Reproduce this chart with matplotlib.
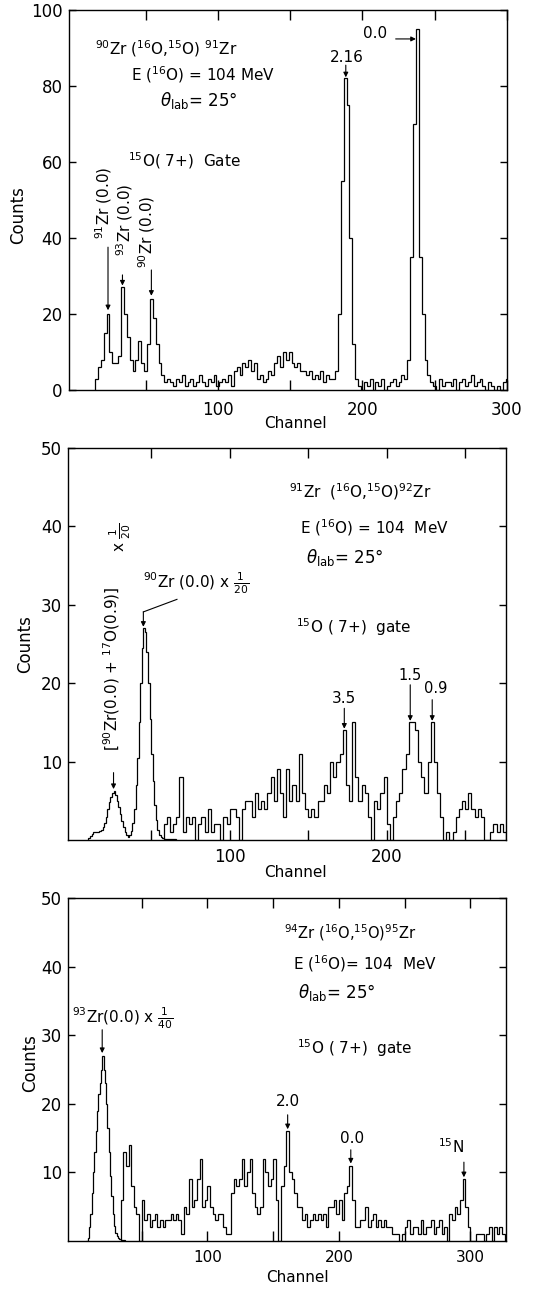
import numpy as np
import matplotlib
matplotlib.use("Agg")
import matplotlib.pyplot as plt

plt.rcParams['font.family'] = 'DejaVu Sans'
plt.rcParams['mathtext.fontset'] = 'dejavusans'

# top panel: 90Zr(16O,15O)91Zr, 2-channel bins starting at channel 15
p1_start = 15
p1_counts = [3, 6, 8, 15, 20, 10, 7, 7, 9, 27, 20, 14, 8, 5, 8, 13, 7, 5, 12, 24, 19, 12, 7, 4, 2,
             3, 2, 1, 3, 2, 4, 1, 2, 3, 1, 2, 4, 2, 1, 3, 2, 4, 1, 2, 3, 2, 4, 1,
             5, 6, 4, 7, 6, 8, 5, 7,
             3, 4, 2, 3, 5, 4,
             7, 9, 6, 10, 8, 10, 7,
             6, 7, 5, 5, 4, 5, 3, 4, 3, 5, 2, 4, 3, 3,
             5, 20, 55, 82, 75, 40, 12, 3, 1, 0,
             2, 1, 3, 0, 2, 1, 3, 0, 1, 2, 3, 1, 2, 4,
             3, 8, 35, 70, 95, 35, 20, 8, 4, 2, 1,
             0, 3, 1, 2, 2, 1, 3, 0, 2, 3, 1, 2, 4, 1, 2, 3, 1, 0, 2, 1, 0, 1, 0, 2, 3]

# middle panel: 91Zr(16O,15O)92Zr
p2_scaled_start = 10      # x 1/20 part, 1-channel bins
p2_scaled = [0.2, 0.5, 0.8, 1, 1, 1, 1, 1.1, 1.3, 1.6, 2.2, 3, 4, 4.8, 5.5, 6, 6.2, 5.8, 5, 4.2,
             3.3, 2.4, 1.6, 1, 0.6, 0.4, 0.6, 1.2, 2.2, 4, 7, 10.5, 15, 20, 24.5, 27, 26.5, 24, 20,
             15.5, 11, 7.5, 4.5, 2.5, 1.3, 0.7, 0.4, 0.2, 0.1, 0.1, 0.1, 0.1, 0.1, 0.1, 0.1, 0.1]
p2_start = 58             # 2-channel bins
p2_counts = [2, 3, 1, 2, 3, 8, 1, 3, 2, 3, 0, 2, 3, 1, 4, 1, 2, 2, 0, 3, 2, 4, 4, 3, 0, 4, 5, 5,
             3, 6, 4, 5, 4, 6, 8, 5, 9, 6,
             3, 9, 5, 7, 5, 11, 6, 4, 3, 4, 3, 5, 5, 7, 6, 10, 8, 10, 11, 14,
             7, 5, 15, 8, 5, 7, 6, 3, 0, 5, 4, 6, 8, 2, 0, 3, 5, 6, 9, 11,
             15, 15, 14, 10, 8, 6, 10, 15, 10, 6, 3, 0, 1, 0, 1, 3, 4, 5, 4, 6,
             4, 3, 4, 3, 0, 0, 1, 2, 1, 2, 1]

# bottom panel: 94Zr(16O,15O)95Zr
p3_scaled_start = 8       # x 1/40 part, 1-channel bins
p3_scaled = [0, 0.5, 2, 4, 7, 10, 13, 16, 19, 21.5, 23, 25, 27, 25, 23, 20, 16.5, 13, 9.5, 6.5,
             4, 2.2, 1.2, 0.8, 0.5, 0.3, 0.2, 0.1, 0.1]
p3_start = 34             # 2-channel bins
p3_counts = [6, 13, 11, 14, 8, 5, 4, 0, 6, 3, 4, 2, 3, 4, 2, 3, 2, 3, 3, 4, 3, 4, 3, 1, 5, 4, 9, 5,
             6, 9, 12, 5, 6, 8, 5, 4, 3, 4, 4, 2, 1, 1, 7, 9, 8, 9, 12, 8, 10, 12, 7, 5, 4, 5,
             12, 10, 8, 9,
             12, 6, 0, 8, 11, 16, 10, 9, 7, 5, 5, 3, 4, 2, 3, 4, 3, 4, 3, 4,
             2, 5, 5, 6, 4, 6, 3, 7, 8, 11, 6, 2, 2, 3, 3, 5, 2, 3, 4, 2,
             3, 2, 3, 2, 2, 1, 1, 1, 0, 1, 2, 3, 1, 2, 2, 1, 3, 1, 2, 2,
             3, 1, 2, 3, 1, 2, 0, 4, 3, 5, 4, 6, 9, 5, 2, 0, 0, 1, 1, 1,
             0, 1, 2, 0, 2, 1, 2, 1]

theta = r'$\theta_{\mathrm{lab}}$= 25°'


def hist(ax, start, counts, width):
    edges = start + width * np.arange(len(counts) + 1)
    ax.stairs(counts, edges, color='black', lw=0.9)


def arrow(ax, x, y0, y1, x0=None):
    if x0 is None:
        x0 = x
    ax.annotate('', xy=(x, y1), xytext=(x0, y0),
                arrowprops=dict(arrowstyle='-|>', color='black', lw=0.8,
                                mutation_scale=7, shrinkA=0, shrinkB=0))


def frame(ax, xlim, ylim, yticks, xmax_tick, xpad, xsize):
    ax.set_xlim(xlim)
    ax.set_ylim(ylim)
    xt = np.arange(50, xmax_tick + 1, 50)
    ax.set_xticks(xt)
    ax.set_xticklabels([str(v) if v % 100 == 0 else '' for v in xt])
    ax.set_yticks(yticks)
    ax.tick_params(axis='x', direction='in', top=True, length=7, width=1,
                   pad=xpad, labelsize=xsize)
    ax.tick_params(axis='y', direction='in', right=True, length=5, width=1,
                   pad=4.5, labelsize=12)
    for s in ax.spines.values():
        s.set_linewidth(1.0)


fig = plt.figure(figsize=(5.41, 12.89), dpi=100)

# ---------- panel 1
ax1 = fig.add_axes([0.1275, 0.6974, 0.8096, 0.2948])
hist(ax1, p1_start, p1_counts, 2)
frame(ax1, (-3, 300), (0, 100), [0, 20, 40, 60, 80, 100], 300, 8, 12)
ax1.set_xlabel('Channel', fontsize=11)
ax1.xaxis.set_label_coords(0.516, -0.087)
ax1.xaxis.label.set_va('center')
ax1.set_ylabel('Counts', fontsize=12)
ax1.yaxis.set_label_coords(-0.116, 0.46)
ax1.yaxis.label.set_va('center')

ax1.text(64.4, 89.9, r'$^{90}$Zr ($^{16}$O,$^{15}$O) $^{91}$Zr', ha='center', va='center', fontsize=11)
ax1.text(89.4, 82.9, r'E ($^{16}$O) = 104 MeV', ha='center', va='center', fontsize=11)
ax1.text(60, 76.3, theta, ha='left', va='center', fontsize=12)
ax1.text(37.8, 60.5, r'$^{15}$O( 7+)  Gate', ha='left', va='center', fontsize=11)

ax1.text(21, 49.3, r'$^{91}$Zr (0.0)', rotation=90, ha='center', va='center', fontsize=11)
ax1.text(35.7, 44.7, r'$^{93}$Zr (0.0)', rotation=90, ha='center', va='center', fontsize=11)
ax1.text(51, 41.6, r'$^{90}$Zr (0.0)', rotation=90, ha='center', va='center', fontsize=11)
arrow(ax1, 24, 37.6, 21)
arrow(ax1, 34, 30.3, 27.5)
arrow(ax1, 54, 31.6, 24.8)

ax1.text(189, 87.6, '2.16', ha='center', va='center', fontsize=11)
arrow(ax1, 188.5, 85.5, 82.3)
ax1.text(209, 93.8, '0.0', ha='center', va='center', fontsize=11)
ax1.annotate('', xy=(237, 92.4), xytext=(223, 92.4),
             arrowprops=dict(arrowstyle='-|>', color='black', lw=0.8,
                             mutation_scale=7, shrinkA=0, shrinkB=0))

# ---------- panel 2
ax2 = fig.add_axes([0.1257, 0.3483, 0.8096, 0.3041])
hist(ax2, p2_scaled_start, p2_scaled, 1)
hist(ax2, p2_start, p2_counts, 2)
frame(ax2, (-3, 276), (0, 50), [10, 20, 30, 40, 50], 250, 6, 12)
ax2.set_xlabel('Channel', fontsize=11)
ax2.xaxis.set_label_coords(0.52, -0.084)
ax2.xaxis.label.set_va('center')
ax2.set_ylabel('Counts', fontsize=12)
ax2.yaxis.set_label_coords(-0.098, 0.50)
ax2.yaxis.label.set_va('center')

ax2.text(183.3, 44.4, r'$^{91}$Zr  ($^{16}$O,$^{15}$O)$^{92}$Zr', ha='center', va='center', fontsize=11)
ax2.text(191.9, 39.9, r'E ($^{16}$O) = 104  MeV', ha='center', va='center', fontsize=11)
ax2.text(148.6, 36.1, theta, ha='left', va='center', fontsize=12)
ax2.text(142.2, 27.2, r'$^{15}$O ( 7+)  gate', ha='left', va='center', fontsize=11)

ax2.text(24.5, 21.9, r'[$^{90}$Zr(0.0) + $^{17}$O(0.9)]', rotation=90, ha='center', va='center', fontsize=11)
ax2.text(30, 38.6, r'x $\frac{1}{20}$', rotation=90, ha='center', va='center', fontsize=11)
arrow(ax2, 26, 8.6, 6.5)
ax2.text(78.8, 32.8, r'$^{90}$Zr (0.0) x $\frac{1}{20}$', ha='center', va='center', fontsize=11)
ax2.plot([66.4, 45], [30.7, 29.1], color='black', lw=0.8)
arrow(ax2, 45, 29.1, 27.2)

ax2.text(172.8, 18.1, '3.5', ha='center', va='center', fontsize=11)
arrow(ax2, 173, 16.8, 14.2)
ax2.text(215, 21.0, '1.5', ha='center', va='center', fontsize=10.5)
arrow(ax2, 215, 19.8, 15.2)
ax2.text(231.5, 19.3, '0.9', ha='center', va='center', fontsize=10.5)
arrow(ax2, 229, 17.9, 15.2)

# ---------- panel 3
ax3 = fig.add_axes([0.1257, 0.0372, 0.8096, 0.2661])
hist(ax3, p3_scaled_start, p3_scaled, 1)
hist(ax3, p3_start, p3_counts, 2)
frame(ax3, (-6, 327), (0, 50), [10, 20, 30, 40, 50], 300, 6.5, 11)
ax3.set_xlabel('Channel', fontsize=11)
ax3.xaxis.set_label_coords(0.523, -0.105)
ax3.xaxis.label.set_va('center')
ax3.set_ylabel('Counts', fontsize=12)
ax3.yaxis.set_label_coords(-0.087, 0.52)
ax3.yaxis.label.set_va('center')

ax3.text(208.4, 45, r'$^{94}$Zr ($^{16}$O,$^{15}$O)$^{95}$Zr', ha='center', va='center', fontsize=10.5)
ax3.text(219.9, 40.5, r'E ($^{16}$O)= 104  MeV', ha='center', va='center', fontsize=11)
ax3.text(168.9, 36.2, theta, ha='left', va='center', fontsize=12)
ax3.text(168.1, 28.1, r'$^{15}$O ( 7+)  gate', ha='left', va='center', fontsize=11)

ax3.text(-3, 32.5, r'$^{93}$Zr(0.0) x $\frac{1}{40}$', ha='left', va='center', fontsize=11)
arrow(ax3, 20, 30.8, 27.4)
ax3.text(161.3, 20.3, '2.0', ha='center', va='center', fontsize=11)
arrow(ax3, 161, 18.4, 16.3)
ax3.text(210, 15, '0.0', ha='center', va='center', fontsize=11)
arrow(ax3, 209, 13.3, 11.3)
ax3.text(285.3, 13.7, r'$^{15}$N', ha='center', va='center', fontsize=11)
arrow(ax3, 295, 11.5, 9.3)

fig.savefig('out.png', dpi=100)
